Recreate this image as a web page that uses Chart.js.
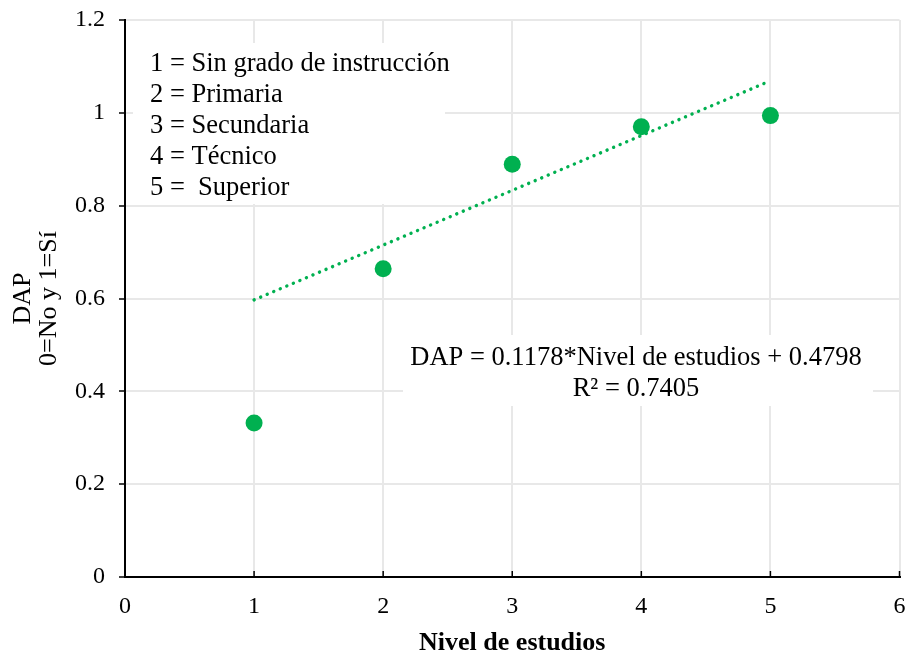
<!DOCTYPE html>
<html>
<head>
<meta charset="utf-8">
<script src="https://cdn.jsdelivr.net/npm/chart.js@4.4.0/dist/chart.umd.min.js"></script>
<style>
  html, body { margin: 0; padding: 0; background: #fff; }
  #wrap { width: 908px; height: 655px; }
</style>
</head>
<body>
<div id="wrap"><canvas id="chart" width="908" height="655"></canvas></div>
<script>
// nivel de estudios vs DAP (averaged)
const levels = [1, 2, 3, 4, 5];
const dapValues = [0.332, 0.664, 0.889, 0.970, 0.994];

// trend line ends
const trendX = [1, 5];
const trendY = [0.597, 1.069];

const legendLines = [
  '1 = Sin grado de instrucción',
  '2 = Primaria',
  '3 = Secundaria',
  '4 = Técnico',
  '5 =  Superior'
];
const equationLines = [
  'DAP = 0.1178*Nivel de estudios + 0.4798',
  'R² = 0.7405'
];

const GREEN = '#00b050';
const SERIF = '"Liberation Serif", "Times New Roman", serif';

// white text boxes + inner ticks on x axis
const notesPlugin = {
  id: 'notes',
  beforeDatasetsDraw(chart) {
    const ctx = chart.ctx;
    const xs = chart.scales.x;
    const ys = chart.scales.y;
    ctx.save();
    ctx.fillStyle = '#fff';
    ctx.fillRect(133, 43, 312, 161);
    ctx.fillRect(403, 335, 470, 71);

    ctx.fillStyle = '#000';
    ctx.font = '26.5px ' + SERIF;
    ctx.textBaseline = 'middle';
    ctx.textAlign = 'left';
    legendLines.forEach((t, i) => ctx.fillText(t, 150, 64 + i * 31));

    ctx.textAlign = 'center';
    equationLines.forEach((t, i) => ctx.fillText(t, 636, 358 + i * 31));

    // x ticks point inwards
    ctx.strokeStyle = '#000';
    ctx.lineWidth = 1.5;
    xs.ticks.forEach(tk => {
      const px = xs.getPixelForValue(tk.value);
      ctx.beginPath();
      ctx.moveTo(px, ys.bottom);
      ctx.lineTo(px, ys.bottom - 6);
      ctx.stroke();
    });
    ctx.restore();
  }
};

new Chart(document.getElementById('chart'), {
  type: 'scatter',
  data: {
    datasets: [
      {
        label: 'DAP',
        data: levels.map((x, i) => ({ x: x, y: dapValues[i] })),
        backgroundColor: GREEN,
        borderColor: GREEN,
        pointRadius: 8.5,
        pointBorderWidth: 0
      },
      {
        label: 'Tendencia',
        data: trendX.map((x, i) => ({ x: x, y: trendY[i] })),
        showLine: true,
        borderColor: GREEN,
        borderWidth: 3.4,
        borderDash: [0.1, 7],
        borderCapStyle: 'round',
        pointRadius: 0
      }
    ]
  },
  options: {
    responsive: false,
    animation: false,
    layout: { padding: { left: 0, right: 8, top: 20, bottom: 0 } },
    plugins: {
      legend: { display: false },
      tooltip: { enabled: false }
    },
    scales: {
      x: {
        type: 'linear',
        min: 0,
        max: 6,
        ticks: {
          stepSize: 1,
          color: '#000',
          font: { family: SERIF, size: 24 },
          padding: 15
        },
        grid: {
          color: '#e8e8e8',
          lineWidth: 2,
          drawTicks: false
        },
        border: { color: '#000', width: 2 },
        title: {
          display: true,
          text: 'Nivel de estudios',
          color: '#000',
          font: { family: SERIF, size: 26, weight: 'bold' },
          padding: { top: 0, bottom: -4 }
        },
        afterFit(scale) {
          scale.height = 78;
          scale.paddingRight = 0;
          scale.paddingLeft = 0;
        }
      },
      y: {
        type: 'linear',
        min: 0,
        max: 1.2,
        ticks: {
          stepSize: 0.2,
          color: '#000',
          font: { family: SERIF, size: 24 },
          padding: 14,
          callback: v => String(Math.round(v * 10) / 10)
        },
        grid: {
          color: '#e8e8e8',
          lineWidth: 2,
          tickColor: '#000',
          tickLength: 6,
          tickWidth: 1.5
        },
        border: { color: '#000', width: 2 },
        title: {
          display: true,
          text: ['DAP', '0=No y 1=Sí'],
          color: '#000',
          font: { family: SERIF, size: 26, lineHeight: 1 },
          padding: { top: 10, bottom: 0 }
        },
        afterFit(scale) {
          scale.width = 125;
          scale.paddingTop = 0;
          scale.paddingBottom = 0;
        }
      }
    }
  },
  plugins: [notesPlugin]
});
</script>
</body>
</html>
